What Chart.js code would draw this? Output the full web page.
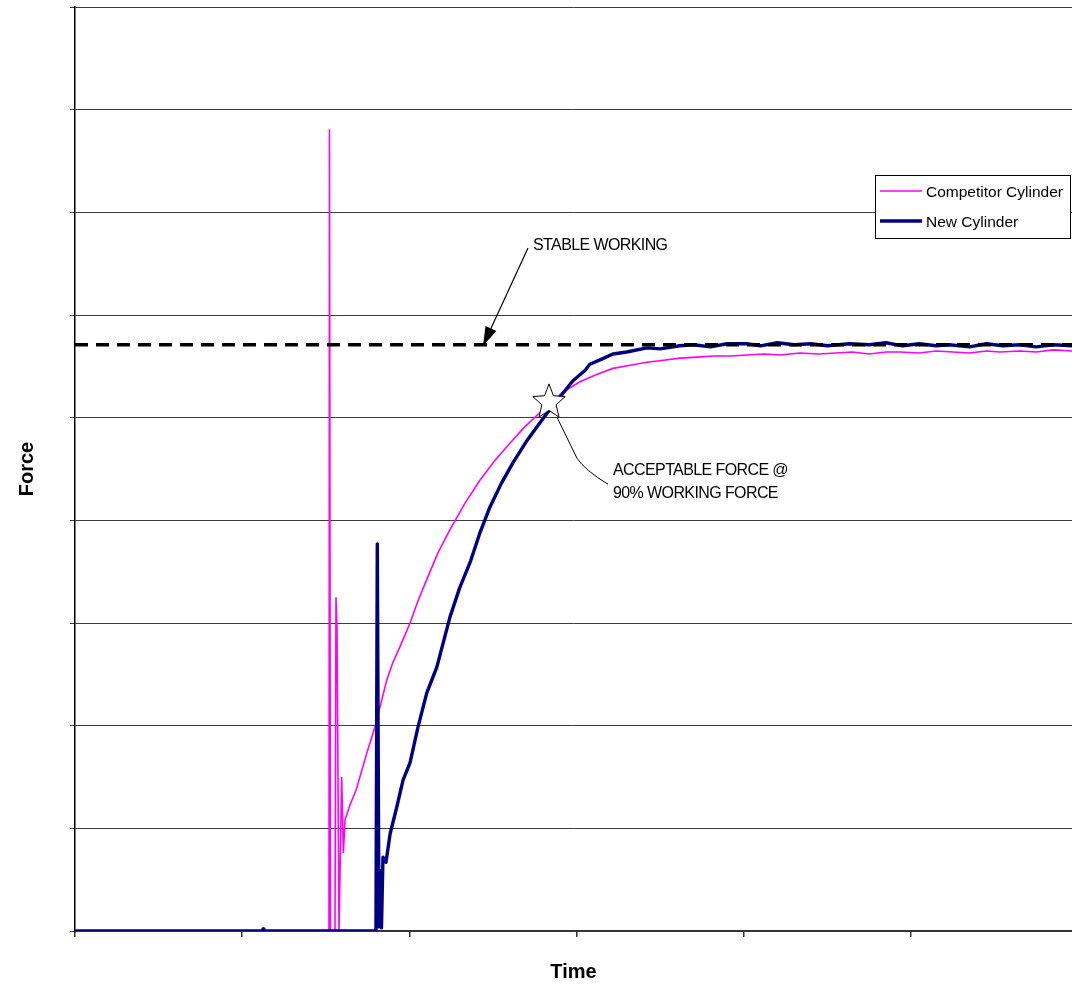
<!DOCTYPE html>
<html>
<head>
<meta charset="utf-8">
<script src="https://cdn.jsdelivr.net/npm/chart.js@4.4.1/dist/chart.umd.min.js"></script>
<style>
  html, body { margin: 0; padding: 0; background: #fff; }
  canvas { display: block; }
</style>
</head>
<body>
<canvas id="chart" width="1072" height="984"></canvas>
<script>
// values (x in tick units, y in gridline units)
const xMax = 5.963;
const stableForce = 5.71;
const starPoint = { x: 2.835, y: 5.15 };

const compTime = [0, 1.519, 1.522, 1.528, 1.555, 1.561, 1.567, 1.579, 1.595, 1.605, 1.615, 1.645, 1.681, 1.745,
  1.794, 1.83, 1.864, 1.90, 1.944, 2.004, 2.05, 2.103, 2.17, 2.243, 2.33, 2.422, 2.51, 2.601, 2.69, 2.781, 2.85,
  2.919, 3.02, 3.12, 3.218, 3.32, 3.421, 3.52,
  3.619, 3.72, 3.82, 3.92, 4.019, 4.12, 4.22, 4.336, 4.45, 4.55, 4.65, 4.75, 4.85, 4.934, 5.05, 5.15, 5.25,
  5.35, 5.45, 5.532, 5.65, 5.75, 5.85, 5.963];
const compForce = [0, 0, 7.81, 0, 0, 3.25, 2.95, 0, 1.50, 0.76, 1.08, 1.23, 1.37, 1.73,
  1.99, 2.22, 2.44, 2.61, 2.77, 3.00, 3.21, 3.42, 3.68, 3.91, 4.16, 4.39, 4.58, 4.75, 4.91, 5.05, 5.15,
  5.25, 5.35, 5.42, 5.48, 5.51, 5.54, 5.56,
  5.58, 5.59, 5.60, 5.60, 5.61, 5.62, 5.61, 5.63, 5.62, 5.63, 5.64, 5.62, 5.64, 5.64, 5.63, 5.65, 5.64,
  5.63, 5.65, 5.64, 5.65, 5.64, 5.66, 5.65];

const newTime = [0, 1.12, 1.125, 1.13, 1.80, 1.808, 1.818, 1.826, 1.833, 1.842, 1.86, 1.885, 1.925, 1.962,
  2.004, 2.052, 2.104, 2.164, 2.243, 2.30, 2.363, 2.42, 2.482, 2.55, 2.619, 2.70, 2.781, 2.84, 2.90, 2.978,
  3.05, 3.079, 3.15, 3.217, 3.30,
  3.42, 3.50, 3.617, 3.70, 3.80, 3.90, 4.017, 4.10, 4.20, 4.30, 4.40, 4.50, 4.633, 4.75, 4.85, 4.95, 5.05,
  5.15, 5.23, 5.35, 5.45, 5.55, 5.65, 5.75, 5.85, 5.963];
const newForce = [0, 0, 0.02, 0, 0, 3.77, 0.04, 0.59, 0.03, 0.72, 0.67, 0.95, 1.21, 1.47,
  1.64, 1.99, 2.32, 2.57, 3.06, 3.34, 3.59, 3.87, 4.13, 4.36, 4.56, 4.77, 4.95, 5.08, 5.20, 5.36,
  5.46, 5.52, 5.57, 5.62, 5.64,
  5.68, 5.67, 5.70, 5.71, 5.69, 5.72, 5.72, 5.70, 5.73, 5.71, 5.72, 5.70, 5.72, 5.71, 5.73, 5.70, 5.72,
  5.70, 5.71, 5.69, 5.72, 5.70, 5.71, 5.69, 5.71, 5.70];

const toPoints = (xs, ys) => xs.map((x, i) => ({ x, y: ys[i] }));

const FONT = '"Liberation Sans", Arial, sans-serif';

function drawStar(ctx, cx, cy, outer, inner) {
  ctx.beginPath();
  for (let i = 0; i < 10; i++) {
    const r = i % 2 === 0 ? outer : inner;
    const a = -Math.PI / 2 + i * Math.PI / 5;
    const px = cx + r * Math.cos(a), py = cy + r * Math.sin(a) * 1.08;
    if (i === 0) ctx.moveTo(px, py); else ctx.lineTo(px, py);
  }
  ctx.closePath();
  ctx.fillStyle = '#fff';
  ctx.fill();
  ctx.strokeStyle = '#000';
  ctx.lineWidth = 1;
  ctx.stroke();
}

// star, callouts and the boxed legend
const annotations = {
  id: 'annotations',
  afterDatasetsDraw(chart) {
    const { ctx, scales: { x, y } } = chart;
    const sx = x.getPixelForValue(starPoint.x);
    const sy = y.getPixelForValue(starPoint.y);
    ctx.save();
    drawStar(ctx, sx, sy, 17, 7.5);

    // leader from the star to its label
    ctx.beginPath();
    ctx.moveTo(sx + 8, sy + 15);
    ctx.lineTo(sx + 28, sy + 56);
    ctx.quadraticCurveTo(sx + 36, sy + 68, sx + 59, sy + 82);
    ctx.strokeStyle = '#000';
    ctx.lineWidth = 1;
    ctx.stroke();

    // arrow to the stable working line
    const tipX = 483, tipY = y.getPixelForValue(stableForce) + 1;
    const fromX = 528, fromY = 248;
    const ang = Math.atan2(tipY - fromY, tipX - fromX);
    ctx.beginPath();
    ctx.moveTo(fromX, fromY);
    ctx.lineTo(tipX - 14 * Math.cos(ang), tipY - 14 * Math.sin(ang));
    ctx.lineWidth = 1.2;
    ctx.stroke();
    ctx.beginPath();
    ctx.moveTo(tipX, tipY);
    ctx.lineTo(tipX - 19 * Math.cos(ang) + 6 * Math.sin(ang), tipY - 19 * Math.sin(ang) - 6 * Math.cos(ang));
    ctx.lineTo(tipX - 19 * Math.cos(ang) - 6 * Math.sin(ang), tipY - 19 * Math.sin(ang) + 6 * Math.cos(ang));
    ctx.closePath();
    ctx.fillStyle = '#000';
    ctx.fill();

    ctx.font = '16px ' + FONT;
    ctx.letterSpacing = '-0.6px';
    ctx.textBaseline = 'alphabetic';
    ctx.textAlign = 'left';
    ctx.fillStyle = '#000';
    ctx.fillText('STABLE WORKING', 533, 250);
    ctx.fillText('ACCEPTABLE FORCE @', 613, 475);
    ctx.fillText('90% WORKING FORCE', 613, 498);
    ctx.letterSpacing = '0px';

    // legend box
    const bx = 875.5, by = 175.5, bw = 195, bh = 63;
    ctx.fillStyle = '#fff';
    ctx.fillRect(bx, by, bw, bh);
    ctx.strokeStyle = '#000';
    ctx.lineWidth = 1;
    ctx.strokeRect(bx, by, bw, bh);
    const items = chart.data.datasets.slice(0, 2);
    const rows = [191, 221];
    ctx.font = '15.5px ' + FONT;
    items.forEach((ds, i) => {
      ctx.beginPath();
      ctx.moveTo(880, rows[i]);
      ctx.lineTo(922, rows[i]);
      ctx.strokeStyle = ds.borderColor;
      ctx.lineWidth = ds.borderWidth;
      ctx.stroke();
      ctx.fillStyle = '#000';
      ctx.fillText(ds.label, 926, rows[i] + 6);
    });
    ctx.restore();
  }
};

new Chart(document.getElementById('chart'), {
  type: 'line',
  data: {
    datasets: [
      {
        label: 'Competitor Cylinder',
        data: toPoints(compTime, compForce),
        borderColor: '#ff00ff',
        borderWidth: 1.6,
        order: 2
      },
      {
        label: 'New Cylinder',
        data: toPoints(newTime, newForce),
        borderColor: '#000080',
        borderWidth: 3.4,
        borderJoinStyle: 'round',
        order: 1
      },
      {
        label: 'Stable working',
        data: [{ x: 0, y: stableForce }, { x: xMax, y: stableForce }],
        borderColor: '#000',
        borderWidth: 3.5,
        borderDash: [13, 8],
        order: 0
      }
    ]
  },
  options: {
    responsive: false,
    animation: false,
    devicePixelRatio: 1,
    layout: { padding: { top: 7, right: 0, left: 0, bottom: 0 } },
    elements: { point: { radius: 0 }, line: { tension: 0 } },
    plugins: { legend: { display: false }, tooltip: { enabled: false } },
    scales: {
      x: {
        type: 'linear',
        min: 0,
        max: xMax,
        ticks: { display: false, stepSize: 1, includeBounds: false },
        grid: { drawOnChartArea: false, tickLength: 6, color: '#333', lineWidth: 1.5 },
        border: { color: '#333', width: 1.5 },
        title: { display: true, text: 'Time', font: { family: FONT, size: 20, weight: 'bold' }, color: '#000', padding: { top: 0, bottom: 0 } },
        afterFit: s => { s.height = 53; }
      },
      y: {
        min: 0,
        max: 9,
        ticks: { display: false, stepSize: 1 },
        grid: { color: '#3c3c3c', tickLength: 5, lineWidth: 1 },
        border: { color: '#000', width: 1.5 },
        title: { display: true, text: 'Force', font: { family: FONT, size: 20, weight: 'bold' }, color: '#000', padding: { top: 15, bottom: 0 } },
        afterFit: s => { s.width = 75; }
      }
    }
  },
  plugins: [annotations]
});
</script>
</body>
</html>
